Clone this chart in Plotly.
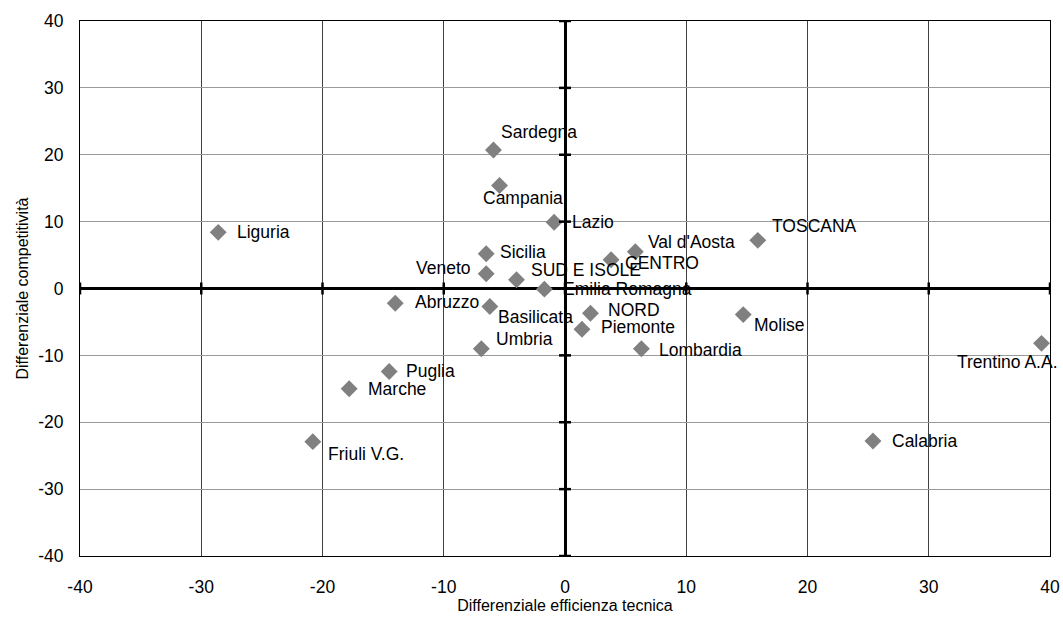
import plotly.graph_objects as go

regions = ["Sardegna", "Campania", "Lazio", "Sicilia", "Veneto", "SUD E ISOLE",
           "Emilia Romagna", "CENTRO", "Val d'Aosta", "TOSCANA", "Liguria", "Abruzzo",
           "Basilicata", "NORD", "Piemonte", "Umbria", "Lombardia", "Molise",
           "Trentino A.A.", "Calabria", "Puglia", "Marche", "Friuli V.G."]
efficienza = [-5.9, -5.4, -0.9, -6.5, -6.5, -4.0, -1.7, 3.8, 5.8, 15.9, -28.6, -14.0,
              -6.2, 2.1, 1.4, -6.9, 6.3, 14.7, 39.3, 25.4, -14.5, -17.8, -20.8]
competitivita = [20.7, 15.4, 9.9, 5.2, 2.2, 1.3, -0.1, 4.3, 5.5, 7.2, 8.4, -2.2,
                 -2.7, -3.7, -6.1, -9.0, -9.0, -3.9, -8.2, -22.8, -12.4, -15.0, -22.9]
tick_vals = [-40, -30, -20, -10, 0, 10, 20, 30, 40]
tick_text = ["-40", "-30", "-20", "-10", "0", "10", "20", "30", "40"]

# label placement (pixel offsets, anchors)
label_style = {
    "Sardegna": (6, 18, "left"), "Campania": (23, -12, "center"),
    "Lazio": (16, 0, "left"), "Sicilia": (12, 2, "left"),
    "Veneto": (-13, 6, "right"), "SUD E ISOLE": (12, 10, "left"),
    "Emilia Romagna": (17, 0, "left"), "CENTRO": (12, -3, "left"),
    "Val d'Aosta": (11, 10, "left"), "TOSCANA": (12, 14, "left"),
    "Liguria": (17, 0, "left"), "Abruzzo": (18, 1, "left"),
    "Basilicata": (6, -10, "left"), "NORD": (16, 3, "left"),
    "Piemonte": (17, 2, "left"), "Umbria": (13, 10, "left"),
    "Lombardia": (16, -1, "left"), "Molise": (9, -10, "left"),
    "Trentino A.A.": (-34, -19, "center"), "Calabria": (17, 0, "left"),
    "Puglia": (15, 0, "left"), "Marche": (17, 0, "left"),
    "Friuli V.G.": (13, -12, "left"),
}

FONT = "Liberation Sans, Arial"

fig = go.Figure()
fig.add_trace(go.Scatter(
    x=efficienza, y=competitivita, mode="markers",
    marker=dict(symbol="diamond", size=13, color="#808080"),
    hovertext=regions, showlegend=False,
))

annotations = []
for name, xv, yv in zip(regions, efficienza, competitivita):
    dx, dy, anc = label_style[name]
    annotations.append(dict(
        x=xv, y=yv, text=name, showarrow=False, xanchor=anc, yanchor="middle",
        xshift=dx, yshift=dy, font=dict(family=FONT, size=17.5, color="#000000"),
    ))

shapes = []
for t in tick_vals:
    shapes.append(dict(type="line", xref="x", yref="y", x0=t, x1=t,
                       ysizemode="pixel", yanchor=0, y0=-6, y1=6,
                       line=dict(color="black", width=2.5)))
    shapes.append(dict(type="line", xref="x", yref="y", y0=t, y1=t,
                       xsizemode="pixel", xanchor=0, x0=-6, x1=6,
                       line=dict(color="black", width=2.5)))

tick_font = dict(family=FONT, size=17.5, color="#000000")
title_font = dict(family=FONT, size=16, color="#000000")

fig.update_layout(
    width=1063, height=640,
    margin=dict(l=80, r=13, t=21, b=84, autoexpand=False),
    paper_bgcolor="white", plot_bgcolor="white",
    font=tick_font,
    annotations=annotations,
    shapes=shapes,
    xaxis=dict(range=[-40, 40], tickvals=tick_vals, ticktext=tick_text, showgrid=True,
               gridcolor="#404040", gridwidth=1, zeroline=True, zerolinecolor="black",
               zerolinewidth=2.5, showline=True, linecolor="black", linewidth=1, mirror=True,
               ticks="", tickfont=tick_font, ticklabelstandoff=15, automargin=False,
               title=dict(text="Differenziale efficienza tecnica", font=title_font, standoff=2)),
    yaxis=dict(range=[-40, 40], tickvals=tick_vals, ticktext=tick_text, showgrid=True,
               gridcolor="#9a9a9a", gridwidth=1, zeroline=True, zerolinecolor="black",
               zerolinewidth=2.5, showline=True, linecolor="black", linewidth=1, mirror=True,
               ticks="", tickfont=tick_font, ticklabelstandoff=12, automargin=False,
               title=dict(text="Differenziale competitività", font=title_font, standoff=5)),
)

fig.write_html(
    "out.html",
    config={"displayModeBar": False},
    post_script="document.body.style.margin='0';document.body.style.overflow='hidden';",
)
